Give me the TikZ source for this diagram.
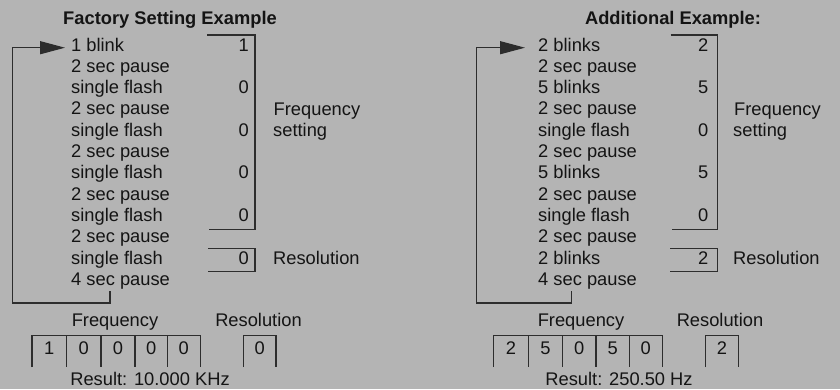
\documentclass[tikz,border=0pt]{standalone}
\usepackage{fontspec}
\setmainfont{Liberation Sans}
\usetikzlibrary{arrows.meta}
\definecolor{bg}{RGB}{180,180,180}
\definecolor{ink}{RGB}{20,20,20}
\definecolor{ln}{RGB}{45,45,45}
\begin{document}
\begin{tikzpicture}[x=1pt,y=-1pt,
  txt/.style={inner sep=0pt,font=\fontsize{18.3}{22}\selectfont,text=ink},
  ttl/.style={inner sep=0pt,font=\fontsize{18.3}{22}\selectfont\bfseries,text=ink},
  lnk/.style={draw=ln,line width=1.2pt},
  tip/.style={-{Triangle[length=25pt,width=13pt]}}]
\fill[bg] (0,0) rectangle (840,389);
\useasboundingbox (0,0) rectangle (840,389);
% ---------- titles
\node[ttl,anchor=base] (LTitle) at (170,24) {Factory Setting Example};
\node[ttl,anchor=base] (RTitle) at (673,24) {Additional Example:};
% ---------- left rows
\foreach \i/\t/\d in {0/1 blink/1,1/2 sec pause/,2/single flash/0,3/2 sec pause/,4/single flash/0,5/2 sec pause/,6/single flash/0,7/2 sec pause/,8/single flash/0,9/2 sec pause/,10/single flash/0,11/4 sec pause/}{
  \node[txt,anchor=base west] (LT\i) at (71,51+21.3*\i) {\t};
  \node[txt,anchor=base east] (LD\i) at (249,51+21.3*\i) {\d};
}
% ---------- right rows
\foreach \i/\t/\d in {0/2 blinks/2,1/2 sec pause/,2/5 blinks/5,3/2 sec pause/,4/single flash/0,5/2 sec pause/,6/5 blinks/5,7/2 sec pause/,8/single flash/0,9/2 sec pause/,10/2 blinks/2,11/4 sec pause/}{
  \node[txt,anchor=base west] (RT\i) at (538,51+21.3*\i) {\t};
  \node[txt,anchor=base east] (RD\i) at (708.5,51+21.3*\i) {\d};
}
% ---------- side labels
\node[txt,anchor=base west] (LFreq) at (273.5,115) {Frequency};
\node[txt,anchor=base west] (LSet) at (273,136.5) {setting};
\node[txt,anchor=base west] (LRes) at (273,264) {Resolution};
\node[txt,anchor=base west] (RFreq) at (734,115) {Frequency};
\node[txt,anchor=base west] (RSet) at (733,136.5) {setting};
\node[txt,anchor=base west] (RRes) at (733,264) {Resolution};
% ---------- brackets
\draw[lnk] (207,35) -| (255,229.3) -- (209,229.3);
\draw[lnk] (208,248.3) -| (255,271.8) -- (208,271.8);
\draw[lnk] (670.7,35) -| (717.3,229.3) -- (672,229.3);
\draw[lnk] (670,248.3) -| (717.3,271.8) -- (670,271.8);
% ---------- loops
\coordinate (LA) at (65,47.7);
\coordinate (LS) at (110,291);
\draw[lnk,tip] (LS) |- (12.7,303) |- (LA);
\coordinate (RA) at (525,47.7);
\coordinate (RS) at (571.7,291);
\draw[lnk,tip] (RS) |- (476.7,303) |- (RA);
% ---------- bottom left
\node[txt,anchor=base] (LFl) at (115,326) {Frequency};
\node[txt,anchor=base] (LRl) at (258.5,326) {Resolution};
\draw[lnk] (32,367) -- (32,335.7) -- (200.3,335.7) -- (200.3,367);
\foreach \x in {66.7,101,135,167.3}{\draw[lnk] (\x,335.7) -- (\x,367);}
\foreach \x/\d/\n in {49.3/1/a,83.8/0/b,118/0/c,151.2/0/d,183.8/0/e}{
  \node[txt,anchor=base] (LB\n) at (\x,354) {\d};}
\draw[lnk] (243.3,367) -- (243.3,335.7) -- (276,335.7) -- (276,367);
\node[txt,anchor=base] (LBr) at (259.6,354) {0};
\node[txt,anchor=base] (LRes2) at (150,385) {Result: 10.000 KHz};
% ---------- bottom right
\node[txt,anchor=base] (RFl) at (581,326) {Frequency};
\node[txt,anchor=base] (RRl) at (720,326) {Resolution};
\draw[lnk] (493.7,367) -- (493.7,335.7) -- (662.3,335.7) -- (662.3,367);
\foreach \x in {528.3,562.7,596,629.3}{\draw[lnk] (\x,335.7) -- (\x,367);}
\foreach \x/\d/\n in {511/2/a,545.5/5/b,579.3/0/c,612.7/5/d,645.8/0/e}{
  \node[txt,anchor=base] (RB\n) at (\x,354) {\d};}
\draw[lnk] (705.7,367) -- (705.7,335.7) -- (738.3,335.7) -- (738.3,367);
\node[txt,anchor=base] (RBr) at (722,354) {2};
\node[txt,anchor=base] (RRes2) at (619,385) {Result: 250.50 Hz};
\end{tikzpicture}
\end{document}
